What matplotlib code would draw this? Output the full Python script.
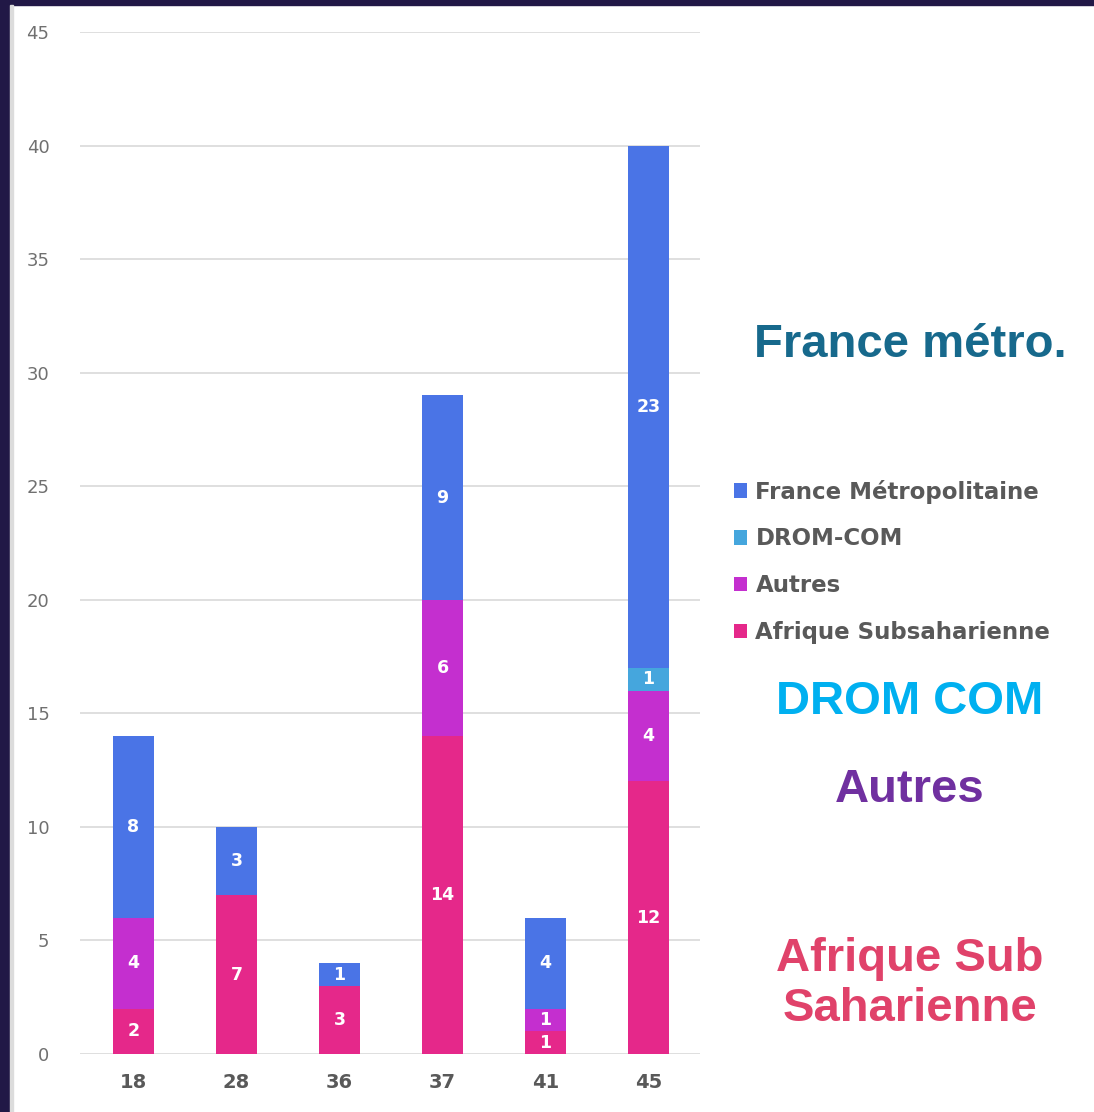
import matplotlib
matplotlib.use("Agg")
import matplotlib.pyplot as plt
import matplotlib.patches as mpatches
import numpy as np

# Data
departements = ["18", "28", "36", "37", "41", "45"]
afrique = [2, 7, 3, 14, 1, 12]
autres = [4, 0, 0, 6, 1, 4]
drom_com = [0, 0, 0, 0, 0, 1]
france = [8, 3, 1, 9, 4, 23]

series_names = ["Afrique Subsaharienne", "Autres", "DROM-COM", "France Métropolitaine"]
series_values = [afrique, autres, drom_com, france]
series_colors = ["#E5288A", "#C42FCF", "#45A6DD", "#4A74E6"]

W, H = 1094, 1112
fig = plt.figure(figsize=(W / 100, H / 100), dpi=100)
fig.patch.set_facecolor("white")

ax = fig.add_axes([80 / W, 1 - 1054 / H, 620 / W, (1054 - 32) / H])
x = np.arange(len(departements))
bottom = np.zeros(len(departements))
handles = {}
for name, vals, col in zip(series_names, series_values, series_colors):
    vals = np.array(vals, dtype=float)
    bars = ax.bar(x, vals, 0.4, bottom=bottom, color=col, zorder=3)
    handles[name] = bars
    for xi, v, b in zip(x, vals, bottom):
        if v > 0:
            ax.text(xi, b + v / 2, f"{int(v)}", ha="center", va="center",
                    color="white", fontsize=12.5, fontweight="bold", zorder=4)
    bottom += vals

ax.set_xlim(-0.52, 5.5)
ax.set_ylim(0, 45)
ax.set_yticks(range(0, 46, 5))
ax.set_xticks(x)
ax.set_xticklabels(departements, fontsize=14, fontweight="bold", color="#595959")
ax.tick_params(axis="y", labelsize=13, labelcolor="#707070", length=0, pad=22)
ax.tick_params(axis="x", length=0, pad=14)
ax.grid(axis="y", color="#D9D9D9", linewidth=1.2, zorder=0)
for s in ax.spines.values():
    s.set_visible(False)

# Legend
order = ["France Métropolitaine", "DROM-COM", "Autres", "Afrique Subsaharienne"]
leg = fig.legend([handles[n] for n in order], order, loc="upper left",
                 bbox_to_anchor=(713 / W, 1 - 459 / H), frameon=False,
                 prop={"size": 16.5, "weight": "bold"}, labelcolor="#595959",
                 handlelength=0.6, handleheight=0.6, handletextpad=0.35,
                 labelspacing=1.04)

# Annotations
fig.text(910 / W, 1 - 345 / H, "France métro.", ha="center", va="center",
         fontsize=34, fontweight="bold", color="#17698C", family="Liberation Sans")
fig.text(910 / W, 1 - 702 / H, "DROM COM", ha="center", va="center",
         fontsize=34, fontweight="bold", color="#00B0F0", family="Liberation Sans")
fig.text(910 / W, 1 - 790 / H, "Autres", ha="center", va="center",
         fontsize=34, fontweight="bold", color="#7030A0", family="Liberation Sans")
fig.text(910 / W, 1 - 984 / H, "Afrique Sub\nSaharienne", ha="center", va="center",
         fontsize=34, fontweight="bold", color="#E0426A", family="Liberation Sans",
         linespacing=1.2)

# Dark frame on the left and top
fig.patches.append(mpatches.Rectangle((0, 0), 10 / W, 1, transform=fig.transFigure,
                                      color="#211846", zorder=10))
fig.patches.append(mpatches.Rectangle((0, 1 - 5 / H), 1, 5 / H, transform=fig.transFigure,
                                      color="#211846", zorder=10))
fig.patches.append(mpatches.Rectangle((10 / W, 0), 3 / W, 1 - 5 / H, transform=fig.transFigure,
                                      color="#DCDCDC", zorder=10))

fig.savefig("out.png", dpi=100, facecolor="white")
